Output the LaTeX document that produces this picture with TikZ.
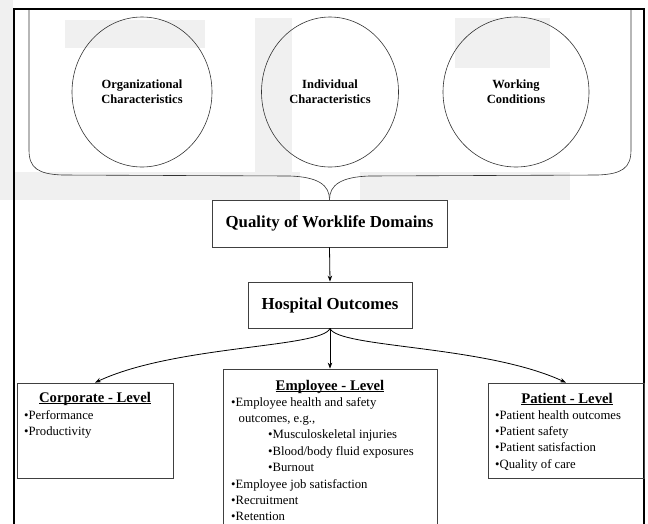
\documentclass[tikz,border=0pt]{standalone}
\usepackage{fontspec}
\setmainfont{Liberation Serif}
\usetikzlibrary{shapes.geometric,arrows.meta}
\newcommand{\myul}[1]{\setbox0\hbox{#1}\rlap{\rule[-1.8pt]{\wd0}{0.8pt}}\box0}
\begin{document}
\begin{tikzpicture}[x=1pt,y=-1pt,
  lbl/.style={font=\fontsize{12.5}{15}\selectfont\bfseries, align=center},
  circ/.style={ellipse, draw=black!80, line width=0.6pt, minimum width=#1, minimum height=150pt, inner sep=0pt, lbl},
  mainbox/.style={draw=black!75, line width=0.8pt, font=\fontsize{16.8}{20}\selectfont\bfseries, inner sep=0pt},
  lvlbox/.style={draw=black!75, line width=0.8pt, inner sep=0pt},
  lvltitle/.style={font=\fontsize{14.7}{17}\selectfont\bfseries, inner sep=0pt, anchor=base},
  body/.style={font=\fontsize{12.7}{16.4}\selectfont, align=left, inner sep=0pt, anchor=north west},
  arr/.style={-{Stealth[length=6pt,width=4.5pt]}, line width=0.8pt},
  bracel/.style={line width=0.6pt, draw=black!80},
  wm/.style={fill=gray!12, draw=none}
]
\useasboundingbox (0,0) rectangle (648,523);
% faint watermark patches
\fill[wm] (0,0) rectangle (13,200);
\fill[wm] (65,20) rectangle (205,48);
\fill[wm] (255,18) rectangle (292,172);
\fill[wm] (455,18) rectangle (550,68);
\fill[wm] (0,172) rectangle (300,200);
\fill[wm] (360,172) rectangle (570,200);
% outer frame
\draw[line width=2pt] (14,560) -- (14,9) -- (644,9) -- (644,560);
% ellipses
\node[circ=140pt] (org) at (142,92) {Organizational\\Characteristics};
\node[circ=137pt] (ind) at (330,92) {Individual\\Characteristics};
\node[circ=146pt] (wrk) at (516,92) {Working\\Conditions};
% main boxes
\node[mainbox, minimum width=235pt, minimum height=47pt] (qwd) at (329.5,223.5) {Quality of Worklife Domains};
\node[mainbox, minimum width=164pt, minimum height=46pt] (ho) at (330,305) {Hospital Outcomes};
% brace
\draw[bracel] (29,10) -- (29,150) .. controls (29,168) and (38,174) .. (62,175) -- (290,176) .. controls (318,177) and (329.5,185) .. (qwd.north);
\draw[bracel] (631,10) -- (631,150) .. controls (631,168) and (622,174) .. (598,175) -- (369,176) .. controls (341,177) and (329.5,185) .. (qwd.north);
\draw[arr] (qwd.south) -- (ho.north);
% level boxes
\node[lvlbox, minimum width=156pt, minimum height=95pt] (corp) at (95,430.5) {};
\node[lvlbox, minimum width=214pt, minimum height=230pt] (emp) at (330,484) {};
\node[lvlbox, minimum width=156pt, minimum height=95pt] (pat) at (566,430.5) {};
\draw[arr] (ho.south) .. controls (322,348) and (175,345) .. (corp.north);
\draw[arr] (ho.south) -- (emp.north);
\draw[arr] (ho.south) .. controls (338,348) and (485,345) .. (pat.north);
% level texts
\node[lvltitle] (corpt) at (95,402) {\myul{Corporate - Level}};
\node[body] (corpb) at (24,410) {•Performance\\•Productivity};
\node[lvltitle] (empt) at (330,390) {\myul{Employee - Level}};
\node[body] (empb) at (231,397) {•Employee health and safety\\
\hspace*{7.5pt}outcomes, e.g.,\\
\hspace*{37pt}•Musculoskeletal injuries\\
\hspace*{37pt}•Blood/body fluid exposures\\
\hspace*{37pt}•Burnout\\
•Employee job satisfaction\\
•Recruitment\\
•Retention};
\node[lvltitle] (patt) at (567,403) {\myul{Patient - Level}};
\node[body] (patb) at (495,410) {•Patient health outcomes\\•Patient safety\\•Patient satisfaction\\•Quality of care};
\end{tikzpicture}
\end{document}
